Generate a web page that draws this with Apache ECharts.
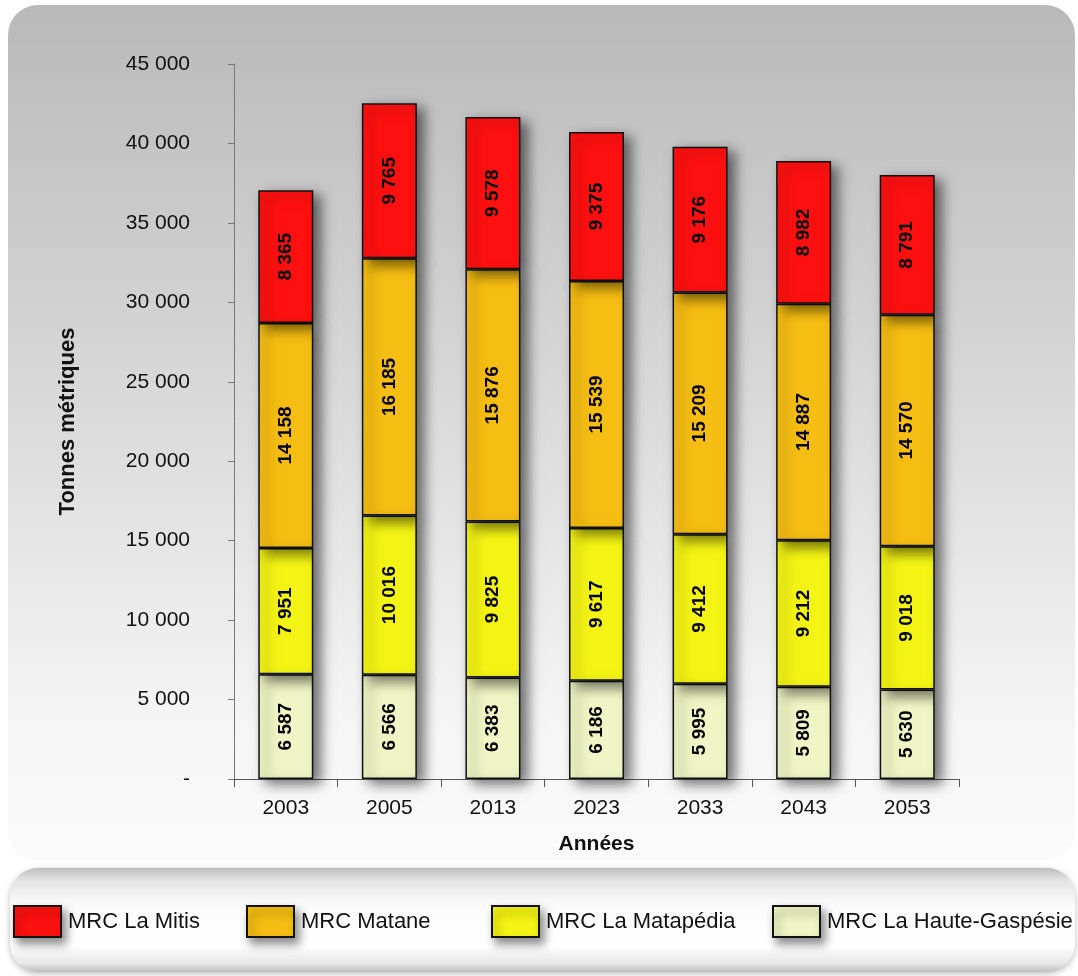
<!DOCTYPE html>
<html><head><meta charset="utf-8">
<script src="https://cdn.jsdelivr.net/npm/echarts@6/dist/echarts.min.js"></script>
<style>html,body{margin:0;padding:0;background:#fff}#c{width:1078px;height:976px}</style>
</head><body><div id="c"></div>
<script>
const categories = ['2003','2005','2013','2023','2033','2043','2053'];
const seriesNames = ['MRC La Haute-Gaspésie','MRC La Matapédia','MRC Matane','MRC La Mitis'];
const hauteGaspesie = [6587, 6566, 6383, 6186, 5995, 5809, 5630];
const matapedia = [7951, 10016, 9825, 9617, 9412, 9212, 9018];
const matane = [14158, 16185, 15876, 15539, 15209, 14887, 14570];
const mitis = [8365, 9765, 9578, 9375, 9176, 8982, 8791];
const colors = ['#EFF5C4','#F4F414','#F6BE12','#FF1010'];
const yAxisName = 'Tonnes métriques';
const xAxisName = 'Années';

const fmt = v => v === 0 ? '-' : String(v).replace(/\B(?=(\d{3})+(?!\d))/g, ' ');
const font = 'Liberation Sans, Arial, sans-serif';
const chart = echarts.init(document.getElementById('c'));
const data = [hauteGaspesie, matapedia, matane, mitis];

const series = data.map((d, i) => ({
  name: seriesNames[i], type: 'bar', stack: 'total', barWidth: 55, data: d,
  itemStyle: { color: colors[i], borderColor: '#111', borderWidth: 1.5,
    shadowBlur: 12, shadowColor: 'rgba(0,0,0,0.55)', shadowOffsetX: 7, shadowOffsetY: 5 },
  label: { show: true, position: 'inside', rotate: 90, formatter: p => fmt(p.value),
    color: '#000', fontWeight: 'bold', fontSize: 19, fontFamily: font },
  z: 2 + i
}));

const legendPos = [
  { name: 'MRC La Mitis', left: 13 },
  { name: 'MRC Matane', left: 246 },
  { name: 'MRC La Matapédia', left: 491 },
  { name: 'MRC La Haute-Gaspésie', left: 772 }
];
const legends = legendPos.map(l => ({
  data: [l.name], left: l.left, top: 905, padding: 0, itemWidth: 47, itemHeight: 31,
  selectedMode: false, icon: 'rect',
  itemStyle: { borderColor: '#111', borderWidth: 2, shadowBlur: 10, shadowColor: 'rgba(0,0,0,0.45)', shadowOffsetX: 4, shadowOffsetY: 6 },
  textStyle: { fontSize: 22, color: '#111', fontFamily: font, padding: [0,0,0,2] }
}));

chart.setOption({
  animation: false,
  graphic: [
    { type: 'rect', shape: { x: 8, y: 5, width: 1067, height: 856, r: 30 }, z: -10,
      style: { fill: new echarts.graphic.LinearGradient(0,0,0,1,[
        {offset:0,color:'#b9b9b9'},{offset:0.5,color:'#dcdcdc'},{offset:0.85,color:'#f6f6f6'},{offset:1,color:'#fbfbfb'}]) } },
    { type: 'rect', shape: { x: 10, y: 868, width: 1065, height: 104, r: 28 }, z: -10,
      style: { fill: new echarts.graphic.LinearGradient(0,0,0,1,[
        {offset:0,color:'#bdbdbd'},{offset:0.12,color:'#e4e4e4'},{offset:0.35,color:'#fbfbfb'},{offset:0.75,color:'#ffffff'},{offset:0.92,color:'#e6e6e6'},{offset:1,color:'#bdbdbd'}]),
        shadowBlur: 6, shadowColor: 'rgba(0,0,0,0.25)', shadowOffsetY: 2 } }
  ],
  grid: { left: 234, right: 119, top: 64, bottom: 197 },
  legend: legends,
  xAxis: {
    type: 'category', data: categories, name: xAxisName, nameLocation: 'middle', nameGap: 55,
    nameTextStyle: { fontWeight: 'bold', fontSize: 21, color: '#111', fontFamily: font },
    axisLine: { lineStyle: { color: '#555', width: 1 } },
    axisTick: { show: true, length: 8, lineStyle: { color: '#555' } },
    axisLabel: { fontSize: 21, color: '#111', fontFamily: font, margin: 19 }
  },
  yAxis: {
    type: 'value', min: 0, max: 45000, interval: 5000,
    name: yAxisName, nameLocation: 'middle', nameGap: 155, nameRotate: 90,
    nameTextStyle: { fontWeight: 'bold', fontSize: 22, color: '#111', fontFamily: font },
    axisLine: { show: true, lineStyle: { color: '#777' } },
    axisTick: { show: true, length: 6, lineStyle: { color: '#777' } },
    splitLine: { show: false },
    axisLabel: { formatter: fmt, fontSize: 21, color: '#111', fontFamily: font, margin: 44 }
  },
  series
});
</script></body></html>
